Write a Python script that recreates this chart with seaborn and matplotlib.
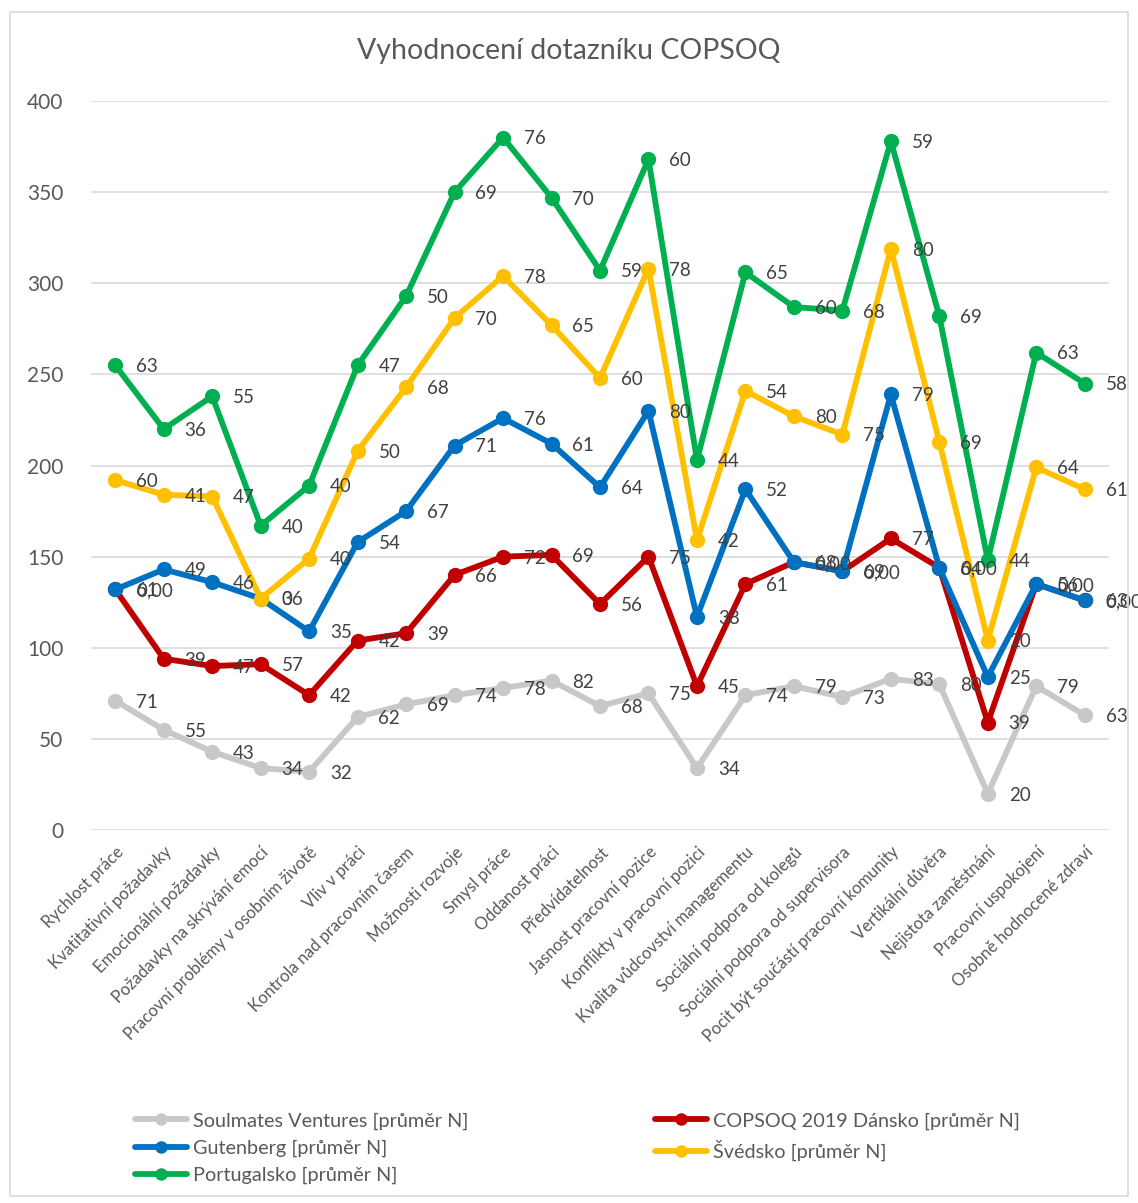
import numpy as np
import pandas as pd
import matplotlib
matplotlib.use("Agg")
import matplotlib.pyplot as plt
from matplotlib.lines import Line2D
from matplotlib.patches import Rectangle
import seaborn as sns

categories = ["Rychlost práce", "Kvatitativní požadavky", "Emocionální požadavky",
              "Požadavky na skrývání emocí", "Pracovní problémy v osobním životě",
              "Vliv v práci", "Kontrola nad pracovním časem", "Možnosti rozvoje",
              "Smysl práce", "Oddanost práci", "Předvídatelnost", "Jasnost pracovní pozice",
              "Konflikty v pracovní pozici", "Kvalita vůdcovství managementu",
              "Sociální podpora od kolegů", "Sociální podpora od supervisora",
              "Pocit být součástí pracovní komunity", "Vertikální důvěra",
              "Nejistota zaměstnání", "Pracovní uspokojení", "Osobně hodnocené zdraví"]

soulmates = [71, 55, 43, 34, 32, 62, 69, 74, 78, 82, 68, 75, 34, 74, 79, 73, 83, 80, 20, 79, 63]
dansko = [61, 39, 47, 57, 42, 42, 39, 66, 72, 69, 56, 75, 45, 61, 68, 69, 77, 64, 39, 56, 63]
gutenberg = [0, 49, 46, 36, 35, 54, 67, 71, 76, 61, 64, 80, 38, 52, 0, 0, 79, 0, 25, 0, 0]
svedsko = [60, 41, 47, 0, 40, 50, 68, 70, 78, 65, 60, 78, 42, 54, 80, 75, 80, 69, 20, 64, 61]
portugalsko = [63, 36, 55, 40, 40, 47, 50, 69, 76, 70, 59, 60, 44, 65, 60, 68, 59, 69, 44, 63, 58]

series_names = ["Soulmates Ventures [průměr N]", "COPSOQ 2019 Dánsko [průměr N]",
                "Gutenberg [průměr N]", "Švédsko [průměr N]", "Portugalsko [průměr N]"]
series_values = [soulmates, dansko, gutenberg, svedsko, portugalsko]
zero_fmt = ["0", "0", "0,00", "0", "0"]
colors = ["#C8C8C8", "#C00000", "#0070C0", "#FFC000", "#00B050"]

sns.set_style("white")
plt.rcParams['font.family'] = ['Lato', 'DejaVu Sans']

fig = plt.figure(figsize=(11.38, 12.03), dpi=100)
ax = fig.add_axes([0.080, 0.310, 0.8945, 0.606])

x = np.arange(len(categories))
cum = np.zeros(len(categories))
rows = []
for name, vals in zip(series_names, series_values):
    cum = cum + np.array(vals, dtype=float)
    for i, (v, c) in enumerate(zip(vals, cum)):
        rows.append({"x": i, "cum": c, "val": v, "series": name})
df = pd.DataFrame(rows)

for k, name in enumerate(series_names):
    sub = df[df.series == name]
    sns.lineplot(data=sub, x="x", y="cum", ax=ax, color=colors[k], linewidth=4.2,
                 marker="o", markersize=11, markeredgewidth=0, legend=False,
                 zorder=3 + k)

for k, name in enumerate(series_names):
    sub = df[df.series == name]
    for _, r in sub.iterrows():
        txt = zero_fmt[k] if r.val == 0 else f"{int(r.val)}"
        ax.annotate(txt, (r.x, r.cum), xytext=(15, -1), textcoords="offset points",
                    ha="left", va="center", fontsize=13.5, color="#404040", zorder=20,
                    annotation_clip=False)

ax.set_xlim(-0.5, len(categories) - 0.5)
ax.set_ylim(0, 400)
ax.set_yticks(range(0, 401, 50))
ax.yaxis.grid(True, color="#D9D9D9", linewidth=1.2)
ax.xaxis.grid(False)
for s in ax.spines.values():
    s.set_visible(False)
ax.set_xticks(x)
ax.set_xticklabels(categories, rotation=45, ha="right", rotation_mode="anchor",
                   fontsize=12, color="#595959")
ax.tick_params(axis="x", length=0, pad=10)
ax.tick_params(axis="y", length=0, pad=20, labelsize=15, labelcolor="#595959")
ax.set_xlabel("")
ax.set_ylabel("")

fig.text(0.5, 0.958, "Vyhodnocení dotazníku COPSOQ", ha="center", va="center",
         fontsize=20.5, color="#595959")

handles = [Line2D([0], [0], color=c, linewidth=4.2, marker="o", markersize=9,
                  markeredgewidth=0) for c in colors]
order = [0, 2, 4, 1, 3]
fig.legend([handles[i] for i in order], [series_names[i] for i in order],
           loc="upper left", bbox_to_anchor=(0.112, 0.082), ncol=2, frameon=False,
           fontsize=14.3, labelcolor="#595959", handlelength=2.6, handletextpad=0.3,
           columnspacing=9.4, labelspacing=0.5, borderaxespad=0)

fig.patches.append(Rectangle((0.009, 0.006), 0.982, 0.984, transform=fig.transFigure,
                             fill=False, edgecolor="#D9D9D9", linewidth=1.2))

fig.savefig("out.png", dpi=100)
